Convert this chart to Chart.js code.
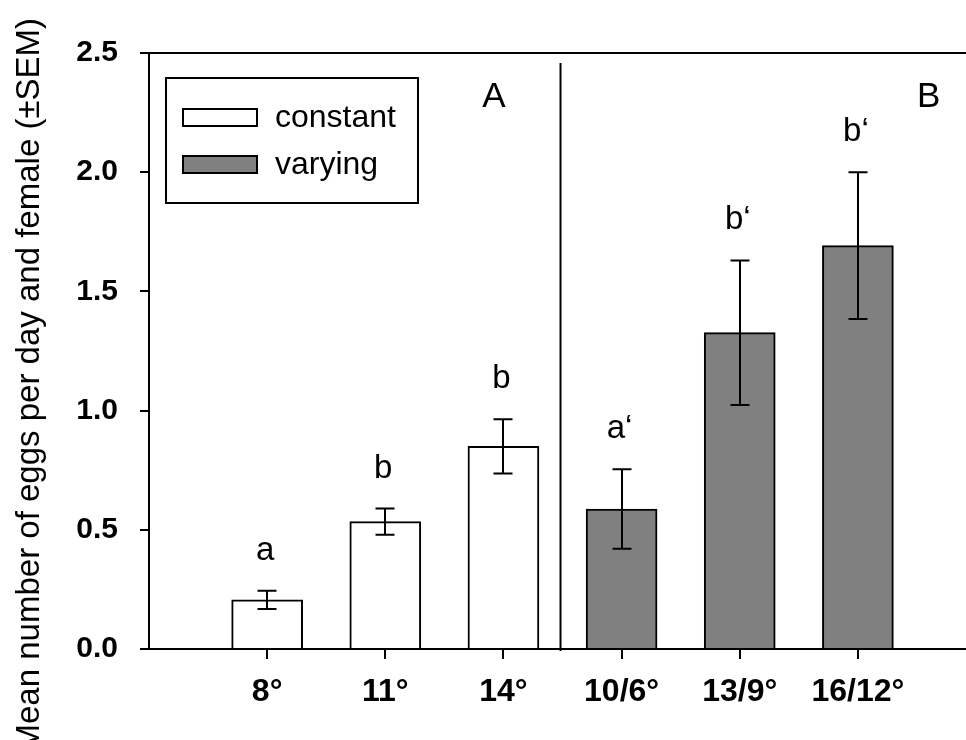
<!DOCTYPE html>
<html>
<head>
<meta charset="utf-8">
<script src="https://cdn.jsdelivr.net/npm/chart.js@4.4.1/dist/chart.umd.min.js"></script>
<style>
  html, body { margin: 0; padding: 0; background: #fff; }
  #wrap { width: 966px; height: 740px; }
</style>
</head>
<body>
<div id="wrap"><canvas id="c" width="966" height="740"></canvas></div>
<script>
// ---- data ----
const categories = ['8°', '11°', '14°', '10/6°', '13/9°', '16/12°'];
const constantCategories = ['8°', '11°', '14°'];
const varyingCategories = ['10/6°', '13/9°', '16/12°'];
const constantMeans = [0.206, 0.534, 0.850];
const varyingMeans = [0.587, 1.327, 1.692];
const constantSEM = [0.038, 0.055, 0.114];
const varyingSEM = [0.167, 0.303, 0.308];
const constantLetters = ['a', 'b', 'b'];
const varyingLetters = ['a‘', 'b‘', 'b‘'];
const yTickValues = [0, 0.5, 1.0, 1.5, 2.0, 2.5];
const panelLabels = ['A', 'B'];
const seriesNames = ['constant', 'varying'];
const yTitle = 'Mean number of eggs per day and female (±SEM)';

const FONT = "'Liberation Sans', Arial, Helvetica, sans-serif";
Chart.defaults.font.family = FONT;
Chart.defaults.color = '#000';

const xOf = (cat) => categories.indexOf(cat) + 1;
const constantData = constantCategories.map((c, i) => ({ x: xOf(c), y: constantMeans[i] }));
const varyingData = varyingCategories.map((c, i) => ({ x: xOf(c), y: varyingMeans[i] }));

const decorPlugin = {
  id: 'decor',
  afterDatasetsDraw(chart) {
    const ctx = chart.ctx;
    const xs = chart.scales.x, ys = chart.scales.y;
    const area = chart.chartArea;
    ctx.save();
    ctx.strokeStyle = '#000';
    ctx.fillStyle = '#000';
    ctx.lineWidth = 2;

    // x tick marks at each category (drawn from the x scale's ticks)
    ctx.beginPath();
    xs.ticks.forEach((t) => {
      const px = Math.round(xs.getPixelForValue(t.value));
      ctx.moveTo(px, area.bottom);
      ctx.lineTo(px, area.bottom + 10);
    });
    ctx.stroke();

    // error bars
    const drawErr = (cats, means, sems) => {
      cats.forEach((c, i) => {
        const px = Math.round(xs.getPixelForValue(xOf(c)));
        const top = ys.getPixelForValue(means[i] + sems[i]);
        const bot = ys.getPixelForValue(means[i] - sems[i]);
        const half = 9.5;
        ctx.beginPath();
        ctx.moveTo(px, top); ctx.lineTo(px, bot);
        ctx.moveTo(px - half, top); ctx.lineTo(px + half, top);
        ctx.moveTo(px - half, bot); ctx.lineTo(px + half, bot);
        ctx.stroke();
      });
    };
    drawErr(constantCategories, constantMeans, constantSEM);
    drawErr(varyingCategories, varyingMeans, varyingSEM);

    // significance letters
    ctx.font = '33px ' + FONT;
    ctx.textAlign = 'center';
    ctx.textBaseline = 'alphabetic';
    const drawLetters = (cats, means, sems, letters) => {
      cats.forEach((c, i) => {
        const px = xs.getPixelForValue(xOf(c));
        const top = ys.getPixelForValue(means[i] + sems[i]);
        ctx.fillText(letters[i], px - 2, top - 31);
      });
    };
    drawLetters(constantCategories, constantMeans, constantSEM, constantLetters);
    drawLetters(varyingCategories, varyingMeans, varyingSEM, varyingLetters);

    // separator between panels
    const sepX = xs.getPixelForValue(3.5) - 2;
    ctx.beginPath();
    ctx.moveTo(sepX, ys.getPixelForValue(2.458));
    ctx.lineTo(sepX, area.bottom + 2);
    ctx.stroke();

    // panel labels
    ctx.font = '35px ' + FONT;
    ctx.textBaseline = 'alphabetic';
    ctx.fillText(panelLabels[0], xs.getPixelForValue(2.92), ys.getPixelForValue(2.273));
    ctx.fillText(panelLabels[1], xs.getPixelForValue(6.6), ys.getPixelForValue(2.273));

    // legend box
    const lx = area.left + 17, ly = area.top + 25, lw = 252, lh = 125;
    ctx.lineWidth = 2;
    ctx.strokeRect(lx, ly, lw, lh);
    const sw = [{ fill: '#ffffff', y: ly + 31 }, { fill: '#808080', y: ly + 78 }];
    ctx.font = '32px ' + FONT;
    ctx.textAlign = 'left';
    ctx.textBaseline = 'middle';
    sw.forEach((s, i) => {
      ctx.fillStyle = s.fill;
      ctx.fillRect(lx + 17, s.y, 74, 17);
      ctx.strokeRect(lx + 17, s.y, 74, 17);
      ctx.fillStyle = '#000';
      ctx.fillText(seriesNames[i], lx + 109, s.y + 9);
    });

    // y axis title
    ctx.save();
    ctx.translate(39, 18);
    ctx.rotate(-Math.PI / 2);
    ctx.font = '33px ' + FONT;
    ctx.textAlign = 'right';
    ctx.textBaseline = 'alphabetic';
    ctx.fillText(yTitle, 0, 0);
    ctx.restore();

    ctx.restore();
  }
};

new Chart(document.getElementById('c'), {
  type: 'bar',
  data: {
    datasets: [
      {
        label: seriesNames[0],
        data: constantData,
        backgroundColor: '#ffffff',
        borderColor: '#000000',
        borderWidth: 2,
        borderSkipped: 'bottom',
        barThickness: 71,
        grouped: false
      },
      {
        label: seriesNames[1],
        data: varyingData,
        backgroundColor: '#808080',
        borderColor: '#000000',
        borderWidth: 2,
        borderSkipped: 'bottom',
        barThickness: 71,
        grouped: false
      }
    ]
  },
  options: {
    responsive: false,
    animation: false,
    layout: { padding: { top: 53, left: 0, right: 0, bottom: 0 } },
    plugins: {
      legend: { display: false },
      tooltip: { enabled: false },
      title: { display: false }
    },
    scales: {
      x: {
        type: 'linear',
        min: 0,
        max: 6.915,
        offset: false,
        afterBuildTicks: (scale) => { scale.ticks = categories.map((c, i) => ({ value: i + 1 })); },
        afterFit: (scale) => { scale.height = 91; },
        ticks: {
          callback: (v) => categories[v - 1],
          font: { size: 32, weight: 'bold' },
          color: '#000',
          padding: 14,
          maxRotation: 0,
          autoSkip: false
        },
        grid: {
          offset: false,
          drawOnChartArea: false,
          drawTicks: true,
          tickLength: 10,
          tickColor: '#000',
          tickWidth: 2,
          color: '#000',
          lineWidth: 2
        },
        border: { display: true, color: '#000', width: 2 }
      },
      y: {
        min: 0,
        max: 2.5,
        afterBuildTicks: (scale) => { scale.ticks = yTickValues.map(v => ({ value: v })); },
        afterFit: (scale) => { scale.width = 149; },
        ticks: {
          callback: (v) => Number(v).toFixed(1),
          font: { size: 30, weight: 'bold' },
          color: '#000',
          padding: 22
        },
        grid: {
          drawOnChartArea: true,
          tickLength: 9,
          tickColor: '#000',
          tickWidth: 2,
          lineWidth: 2,
          color: (ctx) => (ctx.tick && ctx.tick.value === 2.5) ? '#000' : 'rgba(0,0,0,0)'
        },
        border: { display: true, color: '#000', width: 2 }
      }
    }
  },
  plugins: [decorPlugin]
});
</script>
</body>
</html>
